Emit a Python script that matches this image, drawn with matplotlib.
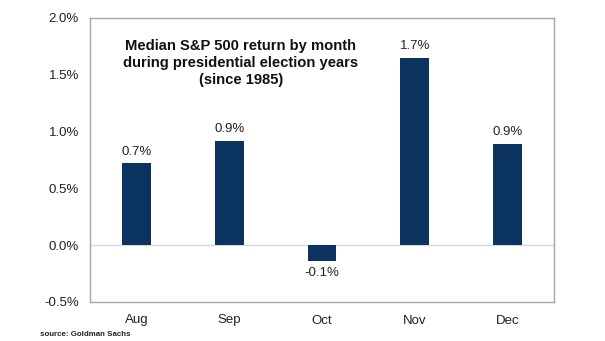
import matplotlib.pyplot as plt
from matplotlib.ticker import FuncFormatter

plt.rcParams['font.family'] = ['Liberation Sans', 'DejaVu Sans']

months = ['Aug', 'Sep', 'Oct', 'Nov', 'Dec']
returns = [0.72, 0.92, -0.14, 1.65, 0.89]
labels = ['0.7%', '0.9%', '-0.1%', '1.7%', '0.9%']

BAR_COLOR = '#0b3360'

fig = plt.figure(figsize=(6.05, 3.41), dpi=100)
ax = fig.add_axes([90 / 605, 1 - 302 / 341, 464 / 605, 284 / 341])

x = range(len(months))
ax.bar(x, returns, width=0.31, color=BAR_COLOR, zorder=3)
ax.axhline(0, color='#d9d9d9', lw=1, zorder=2)

for i, (v, lab) in enumerate(zip(returns, labels)):
    if v >= 0:
        ax.text(i, v + 0.05, lab, ha='center', va='bottom', fontsize=9.5, color='#222222')
    else:
        ax.text(i, v - 0.05, lab, ha='center', va='top', fontsize=9.5, color='#222222')

ax.set_xlim(-0.5, 4.5)
ax.set_ylim(-0.5, 2.0)
ax.set_yticks([-0.5, 0.0, 0.5, 1.0, 1.5, 2.0])
ax.yaxis.set_major_formatter(FuncFormatter(lambda v, p: f'{v:.1f}%'))
ax.set_xticks(list(x))
ax.set_xticklabels(months)
ax.tick_params(axis='both', length=0, labelsize=9.5, colors='#222222')
ax.tick_params(axis='y', pad=8)
ax.tick_params(axis='x', pad=9)
for s in ax.spines.values():
    s.set_color('#a6a6a6')
    s.set_linewidth(1)

ax.text(0.325, 0.925, 'Median S&P 500 return by month\nduring presidential election years\n(since 1985)',
        transform=ax.transAxes, ha='center', va='top', fontsize=10.6, fontweight='bold',
        linespacing=1.25, color='#111111')

fig.text(40 / 605, 1 - 338 / 341, 'source: Goldman Sachs', fontsize=5.7, fontweight='bold',
         color='#222222', ha='left', va='bottom')

fig.savefig('out.png', dpi=100)
